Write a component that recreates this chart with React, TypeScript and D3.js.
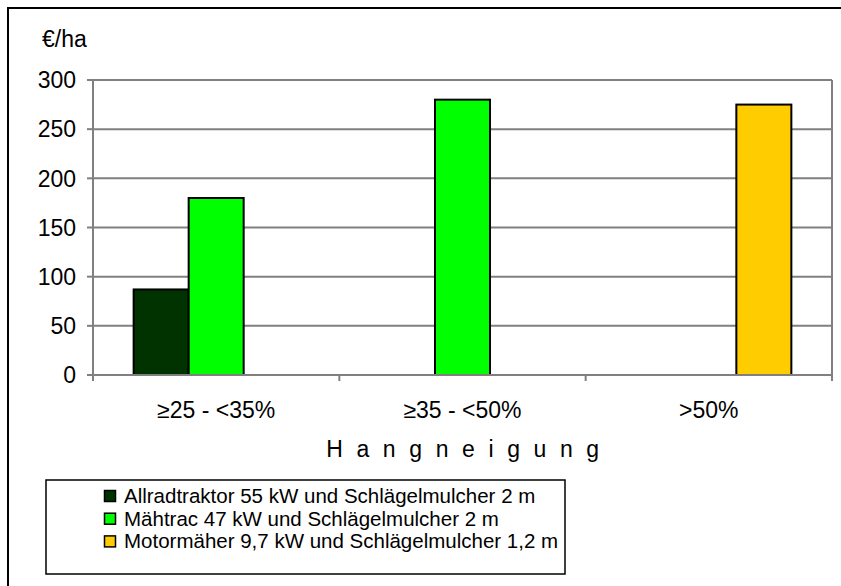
import React from "react";
import * as d3 from "d3";

const categories = ["≥25 - <35%", "≥35 - <50%", ">50%"];
const seriesNames = [
  "Allradtraktor 55 kW und Schlägelmulcher 2 m",
  "Mähtrac 47 kW und Schlägelmulcher 2 m",
  "Motormäher 9,7 kW und Schlägelmulcher 1,2 m",
];
const seriesColors = ["#003300", "#00ff00", "#ffcc00"];
const allradValues = [87, 0, 0];
const maehtracValues = [180, 280, 0];
const motormaeherValues = [0, 0, 275];
const yTicks = [0, 50, 100, 150, 200, 250, 300];
const yLabel = "€/ha";
const xTitle = "Hangneigung";

const seriesValues = [allradValues, maehtracValues, motormaeherValues];

export default function App() {
  const W = 841, H = 586;
  const left = 93, right = 832, top = 80, bottom = 375;
  const font = "'Liberation Sans', Arial, sans-serif";

  const x0 = d3.scaleBand<string>().domain(categories).range([left, right]).padding(0);
  const bw = x0.bandwidth();
  const gap = bw * 0.165;
  const x1 = d3.scaleBand<number>().domain([0, 1, 2]).range([gap, bw - gap]).padding(0);
  const y = d3.scaleLinear().domain([0, 300]).range([bottom, top]);

  return (
    <svg width={W} height={H} style={{ position: "absolute", left: 0, top: 0, background: "#fff" }}>
      <rect x={0} y={0} width={W} height={H} fill="#fff" />
      <rect x={8} y={8} width={W + 20} height={H + 20} fill="none" stroke="#000" strokeWidth={2} />
      {/* plot border (top/right) */}
      <line x1={left} y1={top} x2={right} y2={top} stroke="#808080" strokeWidth={2} />
      <line x1={right} y1={top} x2={right} y2={bottom} stroke="#808080" strokeWidth={2} />
      {/* gridlines */}
      {yTicks.filter(t => t > 0).map(t => (
        <line key={t} x1={left} x2={right} y1={y(t)} y2={y(t)} stroke="#808080" strokeWidth={2} />
      ))}
      {/* bars */}
      {categories.map((c, ci) =>
        seriesValues.map((vals, si) =>
          vals[ci] > 0 ? (
            <rect
              key={`${ci}-${si}`}
              x={(x0(c) as number) + (x1(si) as number)}
              y={y(vals[ci])}
              width={x1.bandwidth()}
              height={y(0) - y(vals[ci])}
              fill={seriesColors[si]}
              stroke="#000"
              strokeWidth={2}
            />
          ) : null
        )
      )}
      {/* axes */}
      <line x1={left} y1={top} x2={left} y2={bottom + 6} stroke="#808080" strokeWidth={2} />
      <line x1={left - 6} y1={bottom} x2={right} y2={bottom} stroke="#808080" strokeWidth={2} />
      {yTicks.map(t => (
        <g key={t}>
          <line x1={left - 6} x2={left} y1={y(t)} y2={y(t)} stroke="#808080" strokeWidth={2} />
          <text x={76} y={y(t)} dy="0.36em" textAnchor="end" fontFamily={font} fontSize={23} fill="#000">
            {t}
          </text>
        </g>
      ))}
      {[...categories.map(c => x0(c) as number), right].map((xv, i) => (
        <line key={i} x1={xv} x2={xv} y1={bottom} y2={bottom + 6} stroke="#808080" strokeWidth={2} />
      ))}
      {categories.map(c => (
        <text key={c} x={(x0(c) as number) + bw / 2} y={418} textAnchor="middle" fontFamily={font} fontSize={23} fill="#000">
          {c}
        </text>
      ))}
      <text x={(left + right) / 2 + 7} y={457} textAnchor="middle" fontFamily={font} fontSize={23} letterSpacing={13.6} fill="#000">
        {xTitle}
      </text>
      <text x={42} y={47} fontFamily={font} fontSize={23} fill="#000">{yLabel}</text>
      {/* legend */}
      <rect x={46} y={480} width={519} height={94} fill="#fff" stroke="#000" strokeWidth={1.5} />
      {seriesNames.map((n, i) => (
        <g key={n}>
          <rect x={104.5} y={490.5 + i * 22.7} width={11} height={11} fill={seriesColors[i]} stroke="#000" strokeWidth={1.5} />
          <text x={124} y={503 + i * 22.7} fontFamily={font} fontSize={20.5} fill="#000">{n}</text>
        </g>
      ))}
    </svg>
  );
}
